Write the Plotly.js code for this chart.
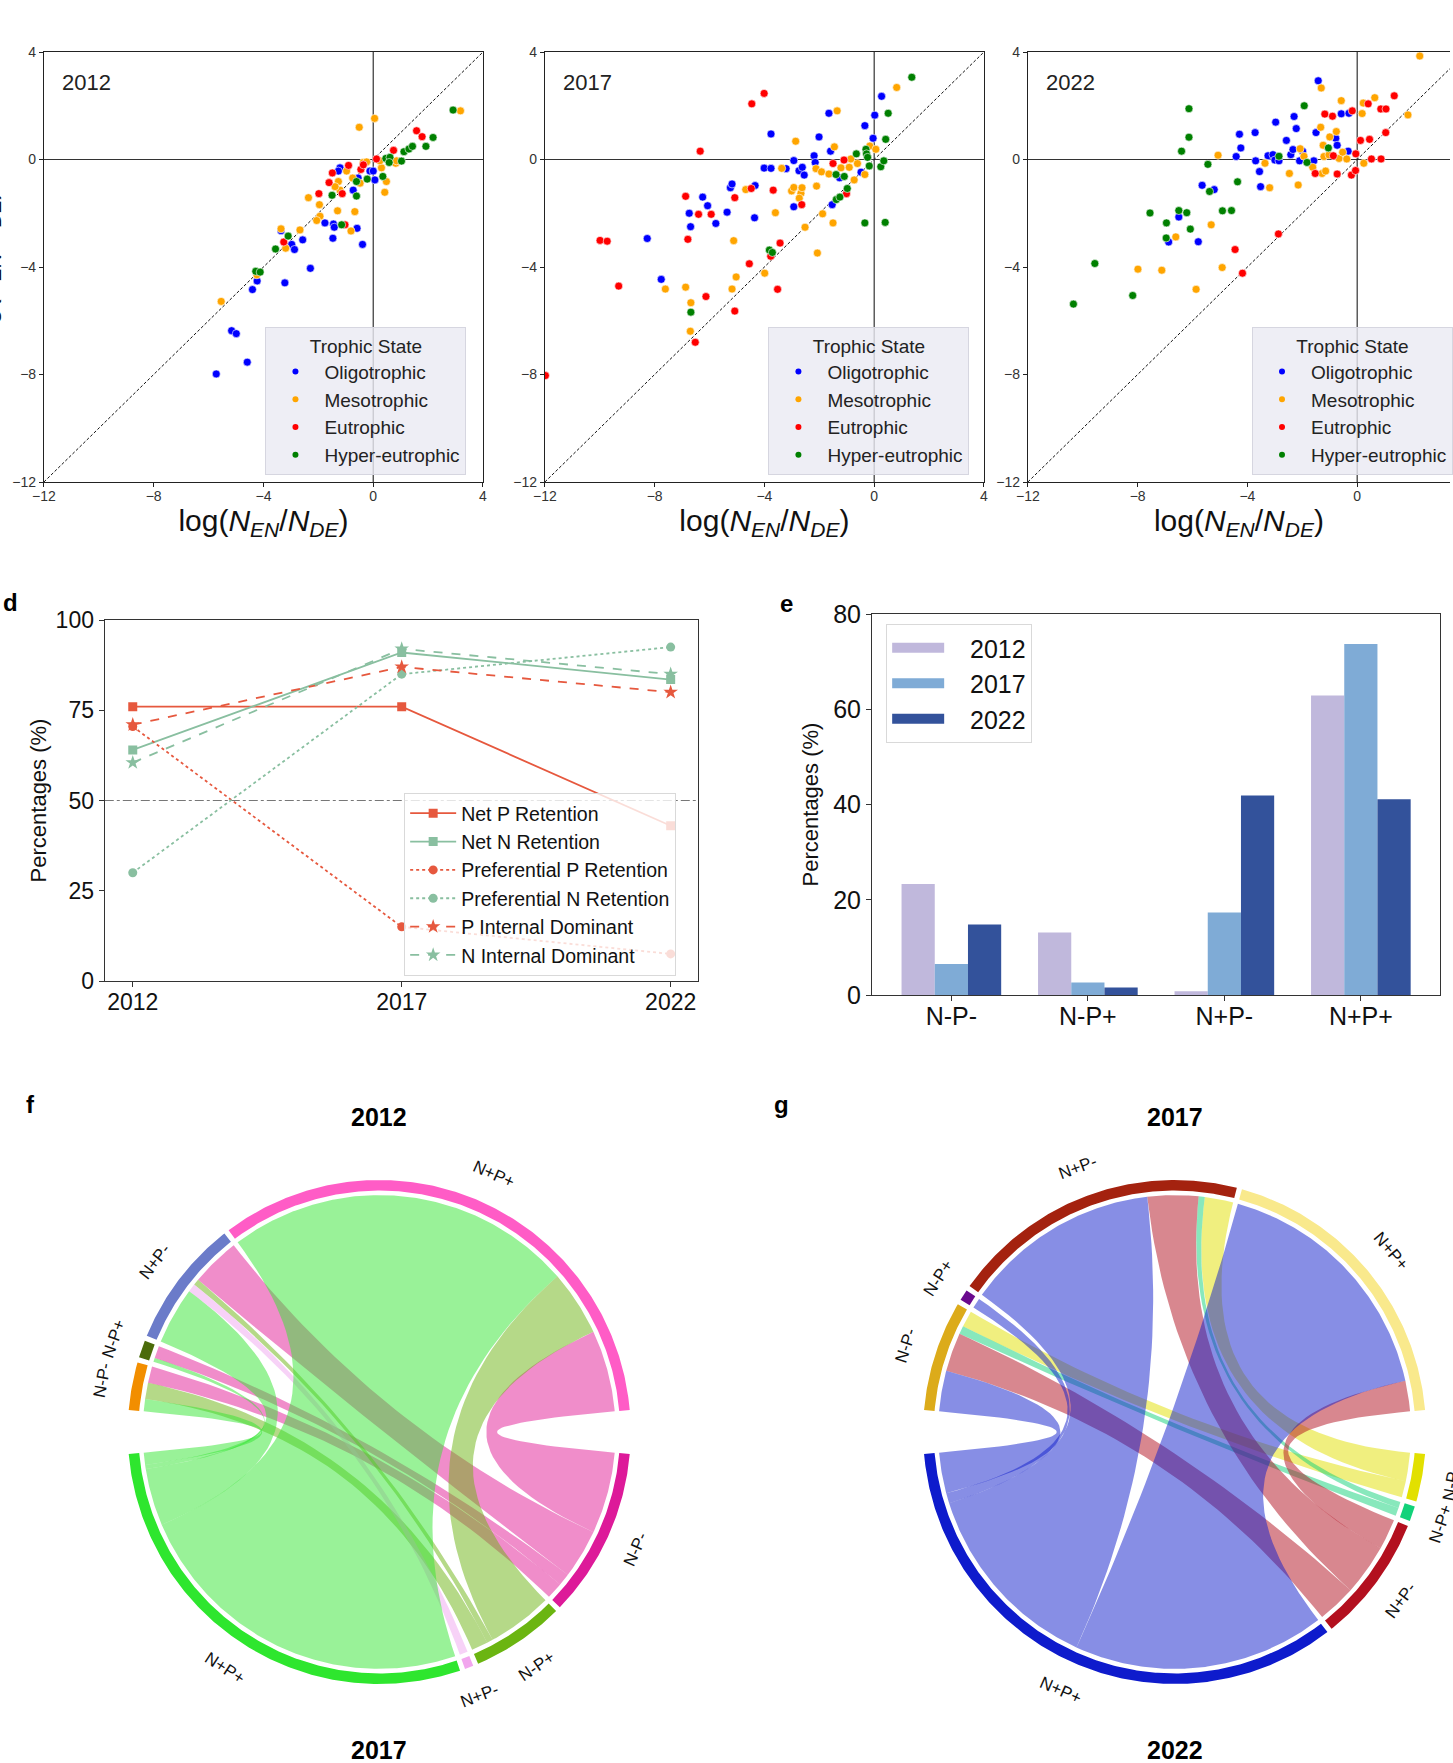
<!DOCTYPE html>
<html>
<head>
<meta charset="utf-8">
<script src="https://cdn.plot.ly/plotly-3.0.1.min.js"></script>
<style>body { margin: 0; background: white; }</style>
</head>
<body>
<div id="fig" style="width:1453px;height:1763px"></div>
<script>
var W = 1453, H = 1763
function px(x) { return x / W }
function py(y) { return 1 - y / H }

// ---- panels a-c : log ratios by trophic state ----
var trophicStates = ["Oligotrophic", "Mesotrophic", "Eutrophic", "Hyper-eutrophic"]
var trophicColors = ["#0000ff", "#ffa500", "#ff0000", "#008000"]
var logTicks = [-12, -8, -4, 0, 4]

var oligo2012X = [-5.72, -4.59, -5.16, -4.99, -4.40, -4.23, -3.22, -2.29, -3.36, -2.97, -2.87, -2.57, -1.76, -1.45, -1.47, -1.42, -0.59, -0.39, -0.73, -1.21, -1.27, -0.55, -0.12, 0.06, 0.0]
var oligo2012Y = [-7.98, -7.54, -6.37, -6.48, -4.84, -4.52, -4.59, -4.05, -2.65, -3.16, -3.35, -2.99, -2.36, -2.40, -2.93, -2.52, -2.56, -3.16, -1.14, -0.31, -0.43, -0.69, -0.43, -0.76, -0.43]
var meso2012X = [-5.54, -4.24, -3.36, -3.19, -2.67, -2.36, -1.96, -1.94, -2.06, -1.30, -1.27, -1.21, -0.97, -0.75, -0.67, -0.81, -0.51, 0.05, -0.36, -0.24, 0.30, 0.48, 0.42, 0.82, 0.85, 0.24, 3.18, -0.48, -1.39]
var meso2012Y = [-5.28, -4.29, -2.58, -3.30, -2.62, -1.42, -1.68, -2.11, -2.27, -1.91, -0.82, -1.14, -0.43, -0.69, -1.94, -2.66, 1.20, 1.53, -0.11, -0.09, -0.31, -0.82, -1.22, -0.14, -0.05, -0.05, 1.81, -0.88, -1.01]
var eu2012X = [-3.26, -1.98, -1.61, -1.49, -1.13, -0.90, -0.45, -0.36, -1.03, 0.12, 0.74, 1.58, 1.78]
var eu2012Y = [-3.07, -1.27, -0.86, -0.50, -1.27, -0.22, -0.37, -0.20, -2.43, 0.02, 0.34, 1.07, 0.85]
var hyper2012X = [-3.56, -3.10, -4.28, -4.12, -1.50, -1.15, -0.61, -0.61, -0.22, 0.35, 0.46, 0.61, 0.58, 1.03, 1.12, 1.30, 1.43, 1.92, 2.18, 2.91]
var hyper2012Y = [-3.33, -2.85, -4.16, -4.19, -1.33, -2.43, -1.36, -0.82, -0.73, -0.63, 0.04, 0.08, -0.11, -0.06, 0.29, 0.39, 0.49, 0.49, 0.82, 1.84]

var oligo2017X = [-8.27, -7.76, -6.74, -6.69, -6.25, -6.07, -5.77, -5.36, -5.24, -5.18, -4.36, -4.34, -4.01, -3.76, -3.76, -3.21, -2.93, -2.93, -2.74, -2.62, -2.55, -2.19, -2.15, -2.01, -1.65, -1.59, -1.53, -1.26, -0.48, -0.34, -0.04, 0.02, 0.27]
var oligo2017Y = [-2.94, -4.46, -2.00, -2.50, -1.40, -1.72, -2.38, -1.96, -1.05, -0.91, -2.17, -0.97, -0.32, -0.33, 0.95, -0.34, -0.04, -1.76, -0.42, -0.29, -0.58, 0.14, -0.11, 0.84, 1.72, 0.31, -1.68, -0.68, -0.47, 1.26, 0.79, 1.65, 2.35]
var meso2017X = [-7.61, -6.87, -6.68, -6.70, -5.12, -5.18, -5.03, -4.68, -3.99, -3.60, -3.37, -3.01, -2.93, -2.67, -2.63, -2.73, -2.86, -2.52, -2.10, -2.07, -2.12, -1.92, -1.88, -1.65, -1.50, -1.45, -1.35, -1.21, -0.91, -0.85, -0.73, -0.61, -0.34, -0.16, 0.06, 0.82]
var meso2017Y = [-4.82, -4.75, -5.33, -6.39, -3.02, -4.82, -4.37, -1.12, -4.23, -1.98, -0.33, -1.17, -1.04, -1.26, -1.05, -1.44, 0.68, -2.52, -0.99, -3.48, -0.34, -0.46, -2.02, -0.54, -2.36, 0.47, 1.81, -0.31, -0.29, 0.02, -0.76, -0.15, -0.56, 0.50, 0.38, 2.68]
var eu2017X = [-11.98, -9.99, -9.73, -9.31, -6.87, -6.79, -6.52, -6.40, -6.34, -6.13, -5.94, -5.08, -5.08, -4.55, -4.48, -4.46, -4.01, -3.77, -3.68, -3.52, -3.43, -2.64, -1.50, -1.10, -1.01]
var eu2017Y = [-8.04, -3.01, -3.04, -4.71, -1.37, -2.97, -6.80, -2.04, 0.31, -5.10, -2.04, -1.42, -5.64, -3.88, -1.08, 2.07, 2.46, -3.60, -1.14, -4.83, -3.11, -1.68, -0.15, -0.02, -1.27]
var hyper2017X = [-6.68, -3.82, -3.71, -1.38, -1.25, -1.39, -1.09, -0.98, -0.65, -0.34, -0.30, -0.28, -0.24, -0.18, 0.24, 0.35, 0.40, 0.42, 0.51, 1.37]
var hyper2017Y = [-5.68, -3.37, -3.46, -1.49, -1.40, -0.56, -0.63, -1.08, 0.21, -2.36, 0.38, 0.21, 0.08, -0.24, -0.27, -0.05, -2.34, 0.75, 1.72, 3.06]

var oligo2022X = [-6.87, -6.50, -5.79, -5.65, -5.21, -4.41, -4.24, -4.29, -3.72, -3.70, -3.56, -3.52, -3.25, -3.07, -2.97, -3.00, -2.85, -2.58, -2.42, -2.34, -2.30, -2.22, -2.10, -1.99, -1.58, -1.50, -1.42, -0.78, -0.73, -0.58, -0.33, -0.30]
var oligo2022Y = [-3.07, -2.14, -3.06, -0.96, -1.12, 0.11, 0.43, 0.94, 1.00, -0.05, -0.45, -1.01, 0.14, 0.18, 1.39, -0.02, -0.05, 0.71, 0.18, 0.37, 1.60, 1.15, -0.05, 0.31, -0.05, 1.00, 2.93, 0.79, 0.53, 1.70, 0.31, 1.72]
var meso2022X = [-7.99, -7.12, -6.61, -5.87, -5.32, -5.07, -4.92, -3.36, -3.19, -2.47, -2.15, -2.08, -1.94, -1.62, -1.31, -1.33, -1.24, -1.21, -1.28, -1.15, -1.00, -1.03, -0.76, -0.66, -0.58, -0.53, -0.38, 0.18, 0.22, 0.24, 0.64, 1.85, 2.28]
var meso2022Y = [-4.08, -4.12, -2.88, -4.83, -2.43, 0.16, -4.02, -0.14, -1.05, -0.52, -0.95, 0.40, 0.12, -0.29, 2.66, 1.20, 0.53, 0.11, -0.52, -0.43, 0.84, 0.17, 1.04, 0.04, 2.19, 0.27, 0.02, 1.71, 2.10, -0.14, 2.30, 1.66, 3.85]
var eu2022X = [-4.45, -4.18, -2.87, -1.53, -1.18, -0.90, -0.87, -0.73, -0.18, -0.21, -0.06, -0.05, 0.12, 0.40, 0.45, 0.52, 0.86, 0.87, 1.05, 1.04, 1.35]
var eu2022Y = [-3.35, -4.23, -2.77, -0.52, 1.69, 1.61, 0.14, -0.54, 1.81, -0.58, -0.41, 0.21, 0.71, 2.07, 0.75, 0.02, 1.88, 0.02, 1.88, 1.00, 2.37]
var hyper2022X = [-10.34, -9.56, -8.18, -7.55, -6.95, -6.96, -6.50, -6.40, -6.21, -6.13, -6.13, -6.08, -5.44, -5.38, -4.91, -4.58, -4.36, -2.85, -1.93, -1.83, -1.05]
var hyper2022Y = [-5.38, -3.87, -5.06, -1.99, -2.36, -2.92, -1.90, 0.31, -1.98, 1.89, 0.83, -2.59, -0.18, -1.19, -1.91, -1.90, -0.83, 0.12, 2.00, -0.11, 0.43]

// ---- panel d ----
var years = ["2012", "2017", "2022"]
var netP = [76, 76, 43]
var netN = [64, 91, 83.5]
var prefP = [70.5, 15, 7.5]
var prefN = [30, 85, 92.5]
var internalP = [71, 87, 80]
var internalN = [60.5, 92, 85]

// ---- panel e ----
var classes = ["N-P-", "N-P+", "N+P-", "N+P+"]
var share2012 = [23.3, 13.1, 0.8, 62.9]
var share2017 = [6.5, 2.6, 17.3, 73.7]
var share2022 = [14.8, 1.6, 41.9, 41.1]

// ---- panels f, g : transitions (rows = earlier year, cols = later year) ----
var flow2012to2017 = [[4, 4, 0, 3], [3, 0, 0, 1], [12, 1.5, 2, 14], [20, 16, 0, 85.5]]
var flow2017to2022 = [[4, 2, 9.5, 10], [0, 0, 0, 2.5], [7, 1.5, 12.5, 48], [0, 0, 7.5, 62]]
var ring2012 = ["#f28e00", "#4b6b0a", "#6b7bc9", "#ff5cc6"]
var ring2017f = ["#dd1a99", "#6bb511", "#f2a6ee", "#2ee62e"]
var ribbon2017f = ["rgba(226,28,150,0.5)", "rgba(108,180,18,0.5)", "rgba(240,165,240,0.5)", "rgba(52,230,50,0.5)"]
var ring2017g = ["#dcab1a", "#6a0a8e", "#a4220f", "#f9e98c"]
var ring2022 = ["#e2e000", "#12d27a", "#b3101f", "#0e1bcc"]
var ribbon2022 = ["rgba(226,224,0,0.5)", "rgba(18,210,122,0.5)", "rgba(178,16,32,0.5)", "rgba(16,30,204,0.5)"]

var traces = []
var annotations = []
var shapes = []
var layout = {
    width: W, height: H,
    margin: {t: 0, l: 0, r: 0, b: 0},
    paper_bgcolor: "white", plot_bgcolor: "white",
    font: {family: "Liberation Sans, Arial, sans-serif", color: "#111"},
    showlegend: true,
    bargap: 0.27, bargroupgap: 0,
}

function note(x, y, text, size, extra) {
    annotations.push(Object.assign({xref: "paper", yref: "paper", x: x, y: y, text: text, showarrow: false,
        xanchor: "center", yanchor: "middle", font: {size: size, color: "#000"}}, extra || {}))
}

var xTitle = "log(<i>N</i><sub><i>EN</i></sub>/<i>N</i><sub><i>DE</i></sub>)"
var scatterPanels = [
    {year: "2012", x0: 44, x1: 484, xr: [-12, 4], right: true, legX: 266,
     xs: [oligo2012X, meso2012X, eu2012X, hyper2012X], ys: [oligo2012Y, meso2012Y, eu2012Y, hyper2012Y]},
    {year: "2017", x0: 546, x1: 986, xr: [-12, 4], right: true, legX: 770,
     xs: [oligo2017X, meso2017X, eu2017X, hyper2017X], ys: [oligo2017Y, meso2017Y, eu2017Y, hyper2017Y]},
    {year: "2022", x0: 1030, x1: W, xr: [-12, -12 + 16 * (W - 1030) / 440], right: false, legX: 1255,
     xs: [oligo2022X, meso2022X, eu2022X, hyper2022X], ys: [oligo2022Y, meso2022Y, eu2022Y, hyper2022Y]},
]

scatterPanels.forEach(function (p, n) {
    var id = n === 0 ? "" : String(n + 1)
    var xa = "x" + id, ya = "y" + id, leg = "legend" + id
    var axisStyle = {
        showline: true, linecolor: "#222", linewidth: 1, showgrid: false, zeroline: false,
        ticks: "outside", ticklen: 4, tickcolor: "#222", tickvals: logTicks,
        tickfont: {size: 14, color: "#333"}, fixedrange: true,
    }
    layout["xaxis" + id] = Object.assign({}, axisStyle, {
        domain: [px(p.x0), px(p.x1)], range: p.xr, anchor: ya, mirror: true, ticklabelstandoff: -3,
        title: {text: xTitle, font: {size: 30, color: "#111"}, standoff: 0},
    })
    layout["yaxis" + id] = Object.assign({}, axisStyle, {
        domain: [py(482), py(52)], range: [-12, 4], anchor: xa, mirror: p.right,
    })
    shapes.push({type: "line", xref: xa, yref: ya, x0: -12, x1: 4, y0: 0, y1: 0, layer: "below", line: {color: "#333", width: 1.2}})
    shapes.push({type: "line", xref: xa, yref: ya, x0: 0, x1: 0, y0: -12, y1: 4, layer: "below", line: {color: "#333", width: 1.2}})
    shapes.push({type: "line", xref: xa, yref: ya, x0: -12, x1: 4, y0: -12, y1: 4, layer: "below", line: {color: "#111", width: 1, dash: "3px,2px"}})
    trophicStates.forEach(function (state, k) {
        traces.push({
            type: "scatter", mode: "markers", x: p.xs[k], y: p.ys[k], xaxis: xa, yaxis: ya,
            showlegend: false, hoverinfo: "skip",
            marker: {size: 8, color: trophicColors[k], line: {color: "white", width: 0.6}},
        })
    })
    // legend keys are smaller than the plotted dots, as in the original
    trophicStates.forEach(function (state, k) {
        traces.push({
            type: "scatter", mode: "markers", x: [null], y: [null], xaxis: xa, yaxis: ya,
            name: state, legend: leg, legendgroup: leg + k, hoverinfo: "skip",
            marker: {size: 6, color: trophicColors[k]},
        })
    })
    layout[leg] = {
        x: px(p.legX), y: py(327), xanchor: "left", yanchor: "top",
        bgcolor: "rgba(234,234,242,0.8)", bordercolor: "rgba(214,214,224,1)", borderwidth: 1,
        font: {size: 19, color: "#222"}, tracegroupgap: 0, itemwidth: 48,
        title: {text: "Trophic State", side: "top center", font: {size: 19, color: "#222"}},
    }
    annotations.push({xref: xa, yref: ya, x: -11.4, y: 2.85, xanchor: "left", yanchor: "middle",
        text: p.year, showarrow: false, font: {size: 22, color: "#222"}})
    note(px(p.x0 - 26), py(6), "<b>" + "abc"[n] + "</b>", 24, {yanchor: "bottom"})
})
note(px(-13), py(268), "log(<i>P</i><sub><i>EN</i></sub>/<i>P</i><sub><i>DE</i></sub>)", 28, {textangle: -90, font: {size: 28, color: "#111"}})

// ---- panel d ----
var red = "#e6583e", green = "#89bfa0"
var lineSeries = [
    {name: "Net P Retention", y: netP, color: red, dash: "solid", symbol: "square", size: 9},
    {name: "Net N Retention", y: netN, color: green, dash: "solid", symbol: "square", size: 9},
    {name: "Preferential P Retention", y: prefP, color: red, dash: "dot", symbol: "circle", size: 9},
    {name: "Preferential N Retention", y: prefN, color: green, dash: "dot", symbol: "circle", size: 9},
    {name: "P Internal Dominant", y: internalP, color: red, dash: "dash", symbol: "star", size: 11},
    {name: "N Internal Dominant", y: internalN, color: green, dash: "dash", symbol: "star", size: 11},
]
lineSeries.forEach(function (s) {
    traces.push({
        type: "scatter", mode: "lines+markers", x: years, y: s.y, xaxis: "x4", yaxis: "y4",
        name: s.name, legend: "legend4", hoverinfo: "skip",
        line: {color: s.color, width: 1.8, dash: s.dash},
        marker: {color: s.color, symbol: s.symbol, size: s.size},
    })
})
var boxAxis = {
    showline: true, linecolor: "#333", linewidth: 1.2, mirror: true, showgrid: false, zeroline: false,
    ticks: "outside", ticklen: 5, tickcolor: "#333", fixedrange: true,
}
layout.xaxis4 = Object.assign({}, boxAxis, {domain: [px(105), px(699)], anchor: "y4", type: "category", range: [-0.104, 2.1],
    tickfont: {size: 23, color: "#111"}, ticklabelstandoff: -5})
layout.yaxis4 = Object.assign({}, boxAxis, {domain: [py(981), py(620)], anchor: "x4", range: [0, 100],
    tickvals: [0, 25, 50, 75, 100], tickfont: {size: 23, color: "#111"},
    title: {text: "Percentages (%)", font: {size: 22, color: "#111"}, standoff: 3}})
shapes.push({type: "line", xref: "x4 domain", yref: "y4", x0: 0, x1: 1, y0: 50, y1: 50, layer: "below",
    line: {color: "#777", width: 1, dash: "dashdot"}})
layout.legend4 = {
    x: px(405), y: py(793), xanchor: "left", yanchor: "top",
    bgcolor: "rgba(255,255,255,0.8)", bordercolor: "#d9d9d9", borderwidth: 1,
    font: {size: 19.5, color: "#111"}, itemwidth: 46,
}
note(px(11), py(602), "<b>d</b>", 24)

// ---- panel e ----
var barYears = [["2012", share2012, "#c0b8dc"], ["2017", share2017, "#7fabd6"], ["2022", share2022, "#33529b"]]
barYears.forEach(function (b) {
    traces.push({type: "bar", x: classes, y: b[1], name: b[0], xaxis: "x5", yaxis: "y5", showlegend: false,
        marker: {color: b[2]}, hoverinfo: "skip"})
})
// wide colour keys for the bar legend
barYears.forEach(function (b) {
    traces.push({type: "scatter", mode: "lines", x: [null], y: [null], name: "\u00a0\u00a0\u00a0" + b[0], xaxis: "x5", yaxis: "y5",
        legend: "legend5", line: {color: b[2], width: 18}, hoverinfo: "skip"})
})
layout.xaxis5 = Object.assign({}, boxAxis, {domain: [px(874), px(1443)], anchor: "y5", type: "category", range: [-0.58, 3.58],
    tickfont: {size: 25, color: "#111"}, ticklabelstandoff: -6})
layout.yaxis5 = Object.assign({}, boxAxis, {domain: [py(995), py(614)], anchor: "x5", range: [0, 80], dtick: 20,
    tickfont: {size: 25, color: "#111"},
    title: {text: "Percentages (%)", font: {size: 22, color: "#111"}, standoff: 8}})
layout.legend5 = {
    x: px(888), y: py(624), xanchor: "left", yanchor: "top",
    bgcolor: "rgba(255,255,255,0.8)", bordercolor: "#d9d9d9", borderwidth: 1,
    font: {size: 25, color: "#111"}, itemwidth: 52, tracegroupgap: 0,
}
note(px(788), py(603), "<b>e</b>", 24)

// ---- panels f, g : bipartite chord diagrams ----
function polar(r, deg) {
    var t = deg * Math.PI / 180
    return [r * Math.cos(t), r * Math.sin(t)]
}
function arcPts(r, a0, a1) {
    var pts = [], n = Math.max(2, Math.ceil(Math.abs(a1 - a0) / 0.5))
    for (var i = 0; i <= n; i++) pts.push(polar(r, a0 + (a1 - a0) * i / n))
    return pts
}
function bezierPts(p0, p2) {
    var pts = []
    for (var i = 1; i < 40; i++) {
        var t = i / 40, u = 1 - t
        pts.push([u * u * p0[0] + t * t * p2[0], u * u * p0[1] + t * t * p2[1]])
    }
    return pts
}
function polyTrace(pts, color, xa, ya) {
    return {
        type: "scatter", mode: "lines", x: pts.map(function (p) { return p[0] }), y: pts.map(function (p) { return p[1] }),
        xaxis: xa, yaxis: ya, fill: "toself", fillcolor: color, line: {width: 0, color: color},
        showlegend: false, hoverinfo: "skip",
    }
}

function chordDiagram(opt) {
    var flow = opt.flow, n = flow.length, gap = 5, pad = 1.2
    var rOut = 1, rIn = 0.958, rChord = 0.94
    var rowSum = flow.map(function (r) { return r.reduce(function (a, b) { return a + b }, 0) })
    var colSum = flow[0].map(function (_, j) { return flow.reduce(function (a, r) { return a + r[j] }, 0) })
    var total = rowSum.reduce(function (a, b) { return a + b }, 0)
    var k = (180 - 2 * gap - (n - 1) * pad) / total
    var topArc = [], botArc = [], a = 180 - gap, b = -gap
    for (var i = 0; i < n; i++) { topArc.push([a, a - rowSum[i] * k]); a -= rowSum[i] * k + pad }
    for (var j = 0; j < n; j++) { botArc.push([b, b - colSum[j] * k]); b -= colSum[j] * k + pad }
    var src = [], dst = []
    for (i = 0; i < n; i++) { src.push([]); dst.push([]) }
    for (i = 0; i < n; i++) {
        var cur = topArc[i][0]
        for (j = n - 1; j >= 0; j--) { src[i][j] = [cur, cur - flow[i][j] * k]; cur -= flow[i][j] * k }
    }
    for (j = 0; j < n; j++) {
        cur = botArc[j][0]
        for (i = n - 1; i >= 0; i--) { dst[i][j] = [cur, cur - flow[i][j] * k]; cur -= flow[i][j] * k }
    }
    var xa = opt.xa, ya = opt.ya
    for (j = 0; j < n; j++) {
        for (i = 0; i < n; i++) {
            if (!(flow[i][j] > 0)) continue
            var s = src[i][j], t = dst[i][j]
            var pts = arcPts(rChord, s[0], s[1])
                .concat(bezierPts(polar(rChord, s[1]), polar(rChord, t[0])))
                .concat(arcPts(rChord, t[0], t[1]))
                .concat(bezierPts(polar(rChord, t[1]), polar(rChord, s[0])))
            pts.push(pts[0])
            traces.push(polyTrace(pts, opt.ribbons[j], xa, ya))
        }
    }
    function ring(arc, color) {
        var pts = arcPts(rOut, arc[0], arc[1]).concat(arcPts(rIn, arc[1], arc[0]))
        pts.push(pts[0])
        traces.push(polyTrace(pts, color, xa, ya))
    }
    // group names sit along the ring, placed in paper units from the axis geometry
    function label(text, deg, top) {
        var p = polar(1.12, deg)
        note(opt.xdom[0] + (p[0] - opt.xr[0]) / (opt.xr[1] - opt.xr[0]) * (opt.xdom[1] - opt.xdom[0]),
            opt.ydom[0] + (p[1] - opt.yr[0]) / (opt.yr[1] - opt.yr[0]) * (opt.ydom[1] - opt.ydom[0]),
            text, 17, {textangle: top ? 90 - deg : -(deg + 90), font: {size: 17, color: "#111"}})
    }
    for (i = 0; i < n; i++) {
        ring(topArc[i], opt.topColors[i])
        label(classes[i], (topArc[i][0] + topArc[i][1]) / 2, true)
    }
    for (j = 0; j < n; j++) {
        ring(botArc[j], opt.bottomColors[j])
        label(classes[j], (botArc[j][0] + botArc[j][1]) / 2, false)
    }
}

var R_PX = 252, HALF = 1.3
var chordPanels = [
    {id: "6", cx: 380, cy: 1432, flow: flow2012to2017, topColors: ring2012, bottomColors: ring2017f,
     ribbons: ribbon2017f, title: ["2012", "2017"], letter: "f", letterX: 31},
    {id: "7", cx: 1177, cy: 1432, flow: flow2017to2022, topColors: ring2017g, bottomColors: ring2022,
     ribbons: ribbon2022, title: ["2017", "2022"], letter: "g", letterX: 783},
]
chordPanels.forEach(function (c) {
    var left = c.cx - HALF * R_PX, right = Math.min(W, c.cx + HALF * R_PX)
    var xdom = [px(left), px(right)]
    var xr = [-HALF, -HALF + (right - left) / R_PX]
    var ydom = [py(c.cy + HALF * R_PX), py(c.cy - HALF * R_PX)]
    var yr = [-HALF, HALF]
    layout["xaxis" + c.id] = {domain: xdom, range: xr, visible: false, fixedrange: true, anchor: "y" + c.id}
    layout["yaxis" + c.id] = {domain: ydom, range: yr, visible: false, fixedrange: true, anchor: "x" + c.id}
    chordDiagram({flow: c.flow, topColors: c.topColors, bottomColors: c.bottomColors, ribbons: c.ribbons,
        xa: "x" + c.id, ya: "y" + c.id, xdom: xdom, xr: xr, ydom: ydom, yr: yr})
    note(px(c.cx), py(1117), "<b>" + c.title[0] + "</b>", 25)
    note(px(c.cx), py(1750), "<b>" + c.title[1] + "</b>", 25)
    note(px(c.letterX), py(1104), "<b>" + c.letter + "</b>", 24)
})

layout.annotations = annotations
layout.shapes = shapes
Plotly.newPlot(document.getElementById("fig"), traces, layout, {staticPlot: true})
</script>
</body>
</html>
